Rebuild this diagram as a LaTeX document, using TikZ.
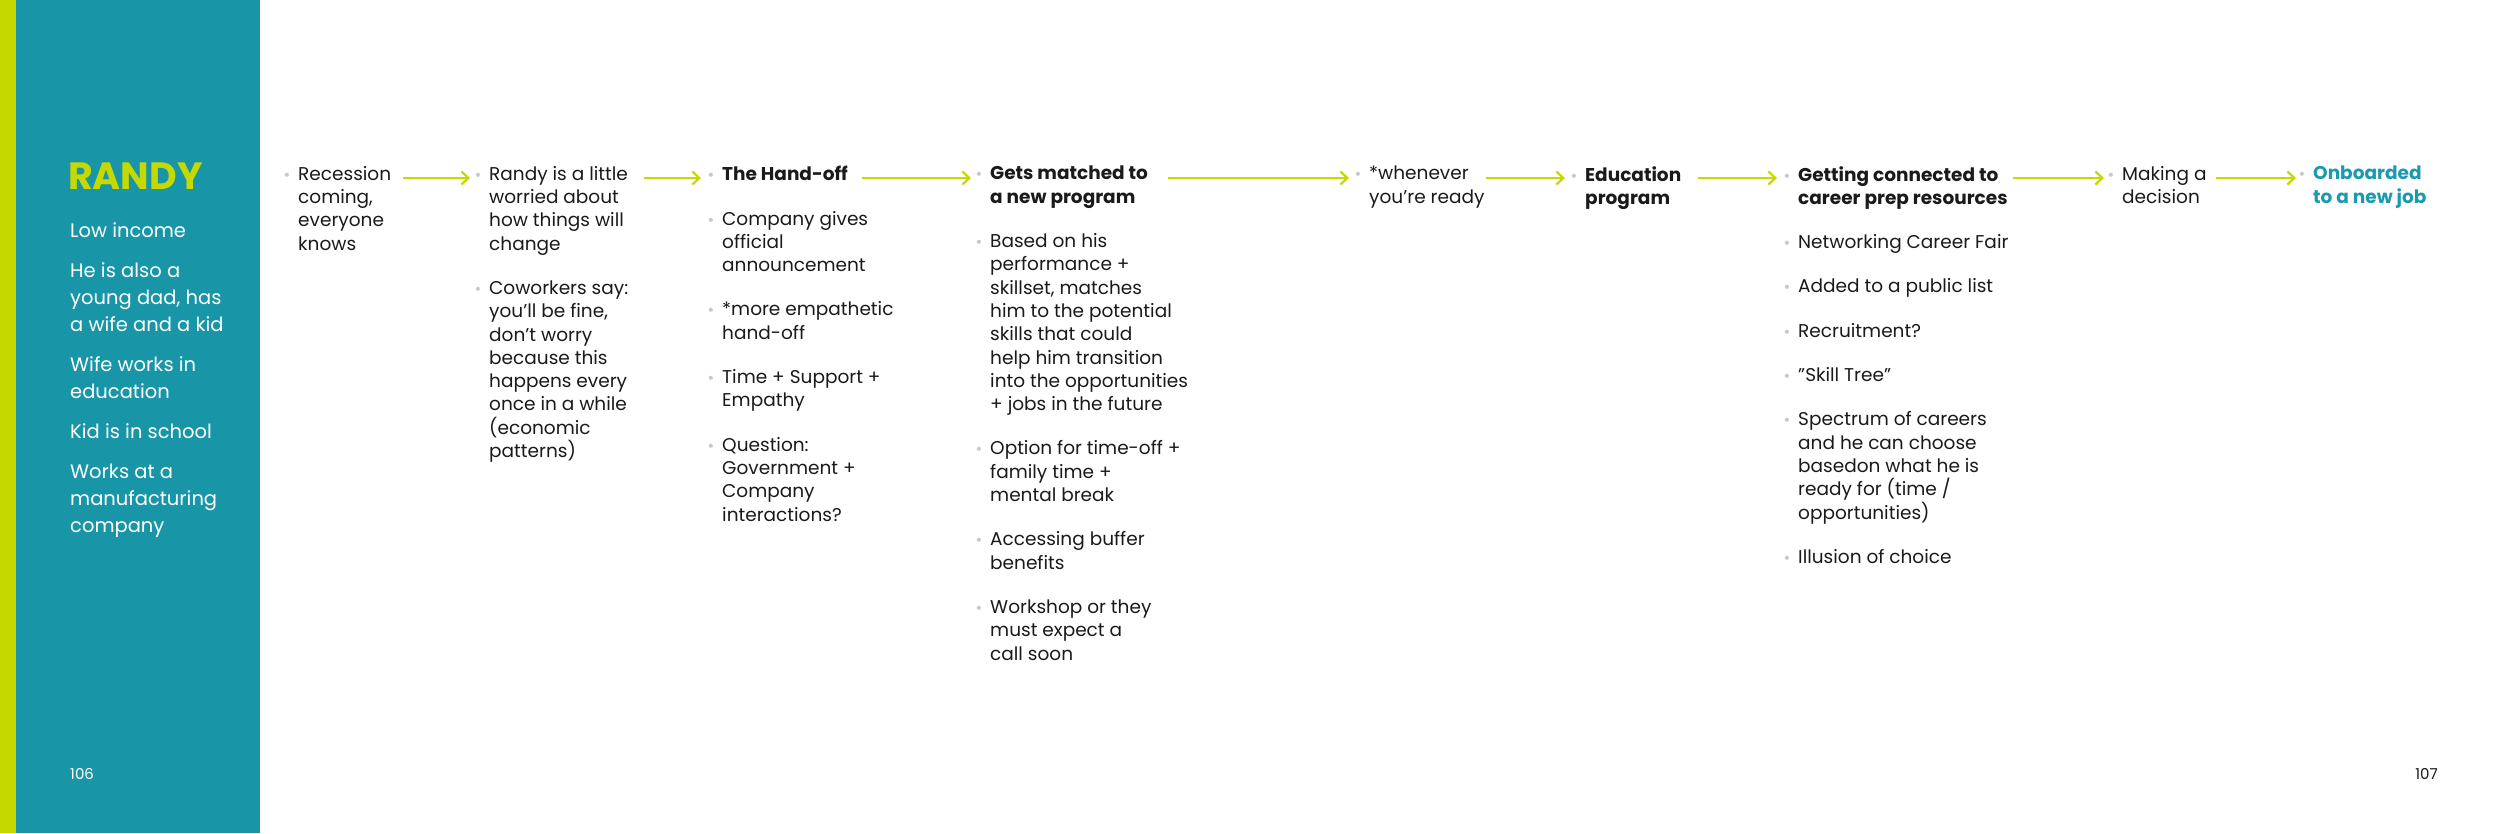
\documentclass[tikz,border=0pt]{standalone}
\usepackage{fontspec}
\usetikzlibrary{arrows.meta}
\setmainfont{Poppins}
\newfontfamily\dv{DejaVu Sans}
\definecolor{teal}{HTML}{1896A8}
\definecolor{lime}{HTML}{C5D900}
\definecolor{onb}{HTML}{1A9AAF}
\definecolor{bgray}{HTML}{C8C8C8}
\definecolor{txt}{HTML}{1A1A1A}
\newcommand\bt{\leavevmode\llap{{\dv\color{bgray}\fontsize{14}{14}\selectfont\textbullet}\hspace{7pt}}}
\newcommand\gap{\\[21pt]}
\begin{document}
\begin{tikzpicture}[x=1pt,y=-1pt,
  col/.style={anchor=north west,inner sep=0pt,align=left,text=txt,font=\fontsize{18.5}{23.3}\selectfont},
  side/.style={anchor=north west,inner sep=0pt,align=left,text=white,font=\fontsize{19.5}{27}\selectfont},
  flow/.style={draw=lime,line width=2.2pt,-{Straight Barb[length=7pt,width=13pt,line width=2.2pt]}}]
\useasboundingbox (0,0) rectangle (2500,833);
\fill[white] (0,0) rectangle (2500,833);
\fill[teal] (0,0) rectangle (260,833);
\fill[lime] (0,0) rectangle (16,833);
\node[anchor=base west,inner sep=0pt,text=lime,font=\fontsize{38}{38}\selectfont\bfseries] (name) at (68,189) {RANDY};
\node[side] (info) at (70,222) {Low income\\[13pt]He is also a\\young dad, has\\a wife and a kid\\[13pt]Wife works in\\education\\[13pt]Kid is in school\\[13pt]Works at a\\manufacturing\\company};
\node[anchor=base west,inner sep=0pt,text=white,font=\fontsize{15}{15}\selectfont] (p1) at (70,779) {106};
\node[anchor=base east,inner sep=0pt,text=txt,font=\fontsize{15}{15}\selectfont] (p2) at (2438,779) {107};

\node[col] (c1) at (298,166) {\bt Recession\\coming,\\everyone\\knows};
\node[col] (c2) at (489,166) {\bt Randy is a little\\worried about\\how things will\\change\gap\bt Coworkers say:\\you'll be fine,\\don’t worry\\because this\\happens every\\once in a while\\(economic\\patterns)};
\node[col] (c3) at (722,166) {\bt\textbf{The Hand-off}\gap\bt Company gives\\official\\announcement\gap\bt *more empathetic\\hand-off\gap\bt Time + Support +\\Empathy\gap\bt Question:\\Government +\\Company\\interactions?};
\node[col] (c4) at (990,166) {\bt\textbf{Gets matched to}\\\textbf{a new program}\gap\bt Based on his\\performance +\\skillset, matches\\him to the potential\\skills that could\\help him transition\\into the opportunities\\+ jobs in the future\gap\bt Option for time-off +\\family time +\\mental break\gap\bt Accessing buffer\\benefits\gap\bt Workshop or they\\must expect a\\call soon};
\node[col] (c5) at (1369,166) {\bt *whenever\\you’re ready};
\node[col] (c6) at (1585,166) {\bt\textbf{Education}\\\textbf{program}};
\node[col] (c7) at (1798,166) {\bt\textbf{Getting connected to}\\\textbf{career prep resources}\gap\bt Networking Career Fair\gap\bt Added to a public list\gap\bt Recruitment?\gap\bt "Skill Tree"\gap\bt Spectrum of careers\\and he can choose\\basedon what he is\\ready for (time /\\opportunities)\gap\bt Illusion of choice};
\node[col] (c8) at (2122,166) {\bt Making a\\decision};
\node[col,text=onb] (c9) at (2313,166) {\bt\textbf{Onboarded}\\\textbf{to a new job}};

\coordinate (a1s) at (403,178); \coordinate (a1e) at (470,178);
\coordinate (a2s) at (644,178); \coordinate (a2e) at (701,178);
\coordinate (a3s) at (862,178); \coordinate (a3e) at (971,178);
\coordinate (a4s) at (1168,178); \coordinate (a4e) at (1349,178);
\coordinate (a5s) at (1486,178); \coordinate (a5e) at (1565,178);
\coordinate (a6s) at (1698,178); \coordinate (a6e) at (1777,178);
\coordinate (a7s) at (2013,178); \coordinate (a7e) at (2104,178);
\coordinate (a8s) at (2216,178); \coordinate (a8e) at (2296,178);
\foreach \i in {1,...,8} \draw[flow] (a\i s) -- (a\i e);
\end{tikzpicture}
\end{document}
